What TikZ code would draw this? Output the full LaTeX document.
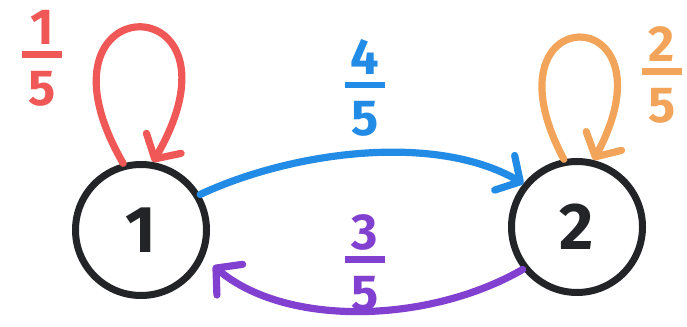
\documentclass[tikz,border=0pt]{standalone}
\usepackage{fontspec}
\setmainfont{Fira Sans}
\usetikzlibrary{arrows.meta,positioning}
\definecolor{inkblack}{RGB}{35,36,40}
\definecolor{inkred}{RGB}{240,88,88}
\definecolor{inkblue}{RGB}{34,139,230}
\definecolor{inkorange}{RGB}{242,165,90}
\definecolor{inkpurple}{RGB}{130,64,208}
\newcommand{\pfrac}[2]{#1\\[-1.06cm]\rule{1cm}{0.17cm}\\[-0.22cm]#2}

\begin{document}
\begin{tikzpicture}[state/.style={
			draw=inkblack,
			circle,
			line width=0.175cm,
			minimum size=3.275cm,
			inner sep=0pt,
			text=inkblack,
			font=\fontsize{47}{50}\selectfont\bfseries
		}, trans/.style={line width=0.18cm, line cap=round, -{Straight Barb[length=0.45cm,width=1cm,round]}},
		prob/.style={align=center, inner sep=0pt, font=\fontsize{36}{40}\selectfont\bfseries}]
		\useasboundingbox (0,0) rectangle (17.175,8.175);
		
		\node[state] (one) at (3.525,2.425) {1};
		\node[state] (two) at (14.425,2.5) {2};
		
		\draw[trans, inkred] (one.105) .. controls +(120:5.2cm) and +(60:5.2cm) .. (one.80);
		\draw[trans, inkorange] (two.101) .. controls +(118:4.6cm) and +(62:4.6cm) .. (two.76);
		\draw[trans, inkblue] (one.31) .. controls +(25:2.55cm) and +(150:2.55cm) .. (two.141);
		\draw[trans, inkpurple, shorten >=0.3cm] (two.218) .. controls +(210:2.7cm) and +(-40:2.7cm) .. (one.-24);
		
		\node[prob, text=inkred] (p11) at (1.05,6.725) {\pfrac{1}{5}};
		\node[prob, text=inkorange] (p22) at (16.55,6.3) {\pfrac{2}{5}};
		\node[prob, text=inkblue] (p12) at (9.125,5.975) {\pfrac{4}{5}};
		\node[prob, text=inkpurple] (p21) at (9.125,1.6) {\pfrac{3}{5}};
	\end{tikzpicture}
\end{document}
